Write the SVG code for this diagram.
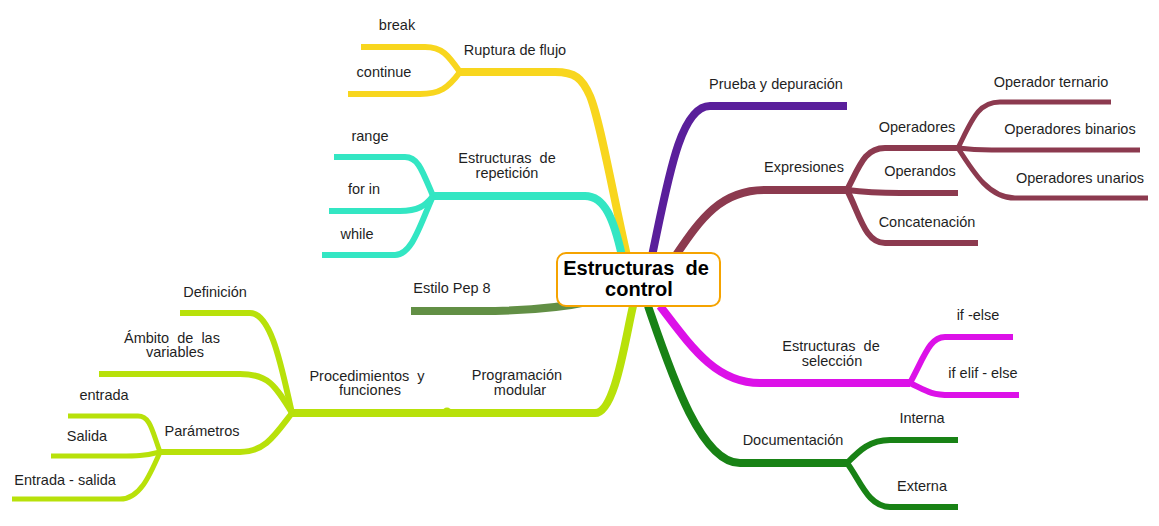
<svg xmlns="http://www.w3.org/2000/svg" width="1159" height="526" viewBox="0 0 1159 526">
<style>
.b{fill:none;stroke-linecap:butt;stroke-linejoin:round}
.m{stroke-width:8}
.s{stroke-width:6}
.t{stroke-width:5}
.y{stroke:#F8D61E}.te{stroke:#33E6C3}.p{stroke:#5A1F9B}.r{stroke:#8C3A4F}.o{stroke:#628F45}.l{stroke:#B8E10A}.g{stroke:#DC11E8}.d{stroke:#188215}
text{font-family:"Liberation Sans",Arial,sans-serif;font-size:14.5px;fill:#1f1f1f;text-anchor:middle;white-space:pre}
.c{font-size:20px;font-weight:bold;fill:#000}
</style>
<rect width="1159" height="526" fill="#fff"/>
<g id="connectors">
<path class="b m y" d="M627,256 C612,190 600,120 590,96 C582,78 575,72 555,72 L460,72"/>
<path class="b s y" d="M460,72 C448,55 442,47 425,47 L361,47"/>
<path class="b s y" d="M460,72 C448,88 440,94 420,94 L348,94"/>
<path class="b m te" d="M622,256 C614,220 605,196 585,196 L433,196"/>
<path class="b s te" d="M433,196 C422,170 418,157 405,157 L334,157"/>
<path class="b s te" d="M433,196 C425,206 418,211 400,211 L329,211"/>
<path class="b s te" d="M433,196 C420,225 412,255 395,255 L322,255"/>
<path class="b m p" d="M652,256 C668,180 680,106 710,106 L847,106"/>
<path class="b m r" d="M676,255 C700,220 720,190 765,190 L847,190"/>
<path class="b s r" d="M847,190 C860,165 865,148 885,148 L958,148"/>
<path class="b s r" d="M847,190 C870,193 880,193 900,193 L958,193"/>
<path class="b s r" d="M847,190 C860,215 865,243 885,243 L978,243"/>
<path class="b t r" d="M958,148 C972,120 978,102 1000,102 L1111,102"/>
<path class="b t r" d="M958,148 C980,151 990,150 1005,150 L1140,150"/>
<path class="b t r" d="M958,148 C975,175 990,198 1015,198 L1148,198"/>
<path class="b m o" d="M592,301 C560,308 520,311 480,311 L411,311"/>
<path class="b m l" d="M633,306 C625,340 615,413 595,413 L447,413"/>
<circle cx="447" cy="412" r="4.5" fill="#B8E10A"/>
<path class="b m l" d="M447,413 L292,413"/>
<path class="b s l" d="M292,413 C282,370 272,313 250,313 L180,313"/>
<path class="b s l" d="M292,413 C275,385 268,374 240,374 L99,374"/>
<path class="b s l" d="M292,413 C275,435 265,452 240,452 L160,452"/>
<path class="b t l" d="M160,452 C152,430 150,416 138,416 L68,416"/>
<path class="b t l" d="M160,452 C145,456 135,456 120,456 L51,456"/>
<path class="b t l" d="M160,452 C150,475 140,499 120,499 L12,499"/>
<path class="b m g" d="M660,306 C690,345 715,383 760,383 L910,383"/>
<path class="b s g" d="M910,383 C925,355 930,337 945,337 L1013,337"/>
<path class="b s g" d="M910,383 C925,390 930,395 950,395 L1019,395"/>
<path class="b m d" d="M648,306 C670,370 700,463 740,463 L847,463"/>
<path class="b s d" d="M847,463 C860,450 870,440 890,440 L958,440"/>
<path class="b s d" d="M847,463 C860,480 868,507 890,507 L958,507"/>
</g>
<g id="center">
<rect x="557" y="253" width="163" height="53" rx="9" fill="#fff" stroke="#F5A300" stroke-width="2"/>
<text class="c" x="636" y="275">Estructuras  de</text>
<text class="c" x="639" y="296">control</text>
</g>
<g id="ruptura"><text x="515" y="55">Ruptura de flujo</text></g>
<g id="break"><text x="397" y="30">break</text></g>
<g id="continue"><text x="384" y="77">continue</text></g>
<g id="repeticion"><text x="507" y="163">Estructuras  de</text><text x="507" y="178">repetición</text></g>
<g id="range"><text x="370" y="141">range</text></g>
<g id="forin"><text x="364" y="194">for in</text></g>
<g id="while"><text x="357" y="239">while</text></g>
<g id="prueba"><text x="776" y="89">Prueba y depuración</text></g>
<g id="expresiones"><text x="804" y="172">Expresiones</text></g>
<g id="operadores"><text x="917" y="132">Operadores</text></g>
<g id="operandos"><text x="920" y="176">Operandos</text></g>
<g id="concatenacion"><text x="927" y="227">Concatenación</text></g>
<g id="ternario"><text x="1051" y="87">Operador ternario</text></g>
<g id="binarios"><text x="1070" y="134">Operadores binarios</text></g>
<g id="unarios"><text x="1080" y="183">Operadores unarios</text></g>
<g id="pep8"><text x="452" y="293">Estilo Pep 8</text></g>
<g id="modular"><text x="517" y="380">Programación</text><text x="520" y="395">modular</text></g>
<g id="procedimientos"><text x="367" y="381">Procedimientos  y</text><text x="370" y="395">funciones</text></g>
<g id="definicion"><text x="215" y="297">Definición</text></g>
<g id="ambito"><text x="172" y="343">Ámbito  de  las</text><text x="175" y="357">variables</text></g>
<g id="parametros"><text x="202" y="436">Parámetros</text></g>
<g id="entrada"><text x="104" y="400">entrada</text></g>
<g id="salida"><text x="87" y="441">Salida</text></g>
<g id="entradasalida"><text x="65" y="485">Entrada - salida</text></g>
<g id="seleccion"><text x="831" y="351">Estructuras  de</text><text x="832" y="366">selección</text></g>
<g id="ifelse"><text x="978" y="320">if -else</text></g>
<g id="ifelif"><text x="983" y="378">if elif - else</text></g>
<g id="documentacion"><text x="793" y="445">Documentación</text></g>
<g id="interna"><text x="922" y="423">Interna</text></g>
<g id="externa"><text x="922" y="491">Externa</text></g>
</svg>
